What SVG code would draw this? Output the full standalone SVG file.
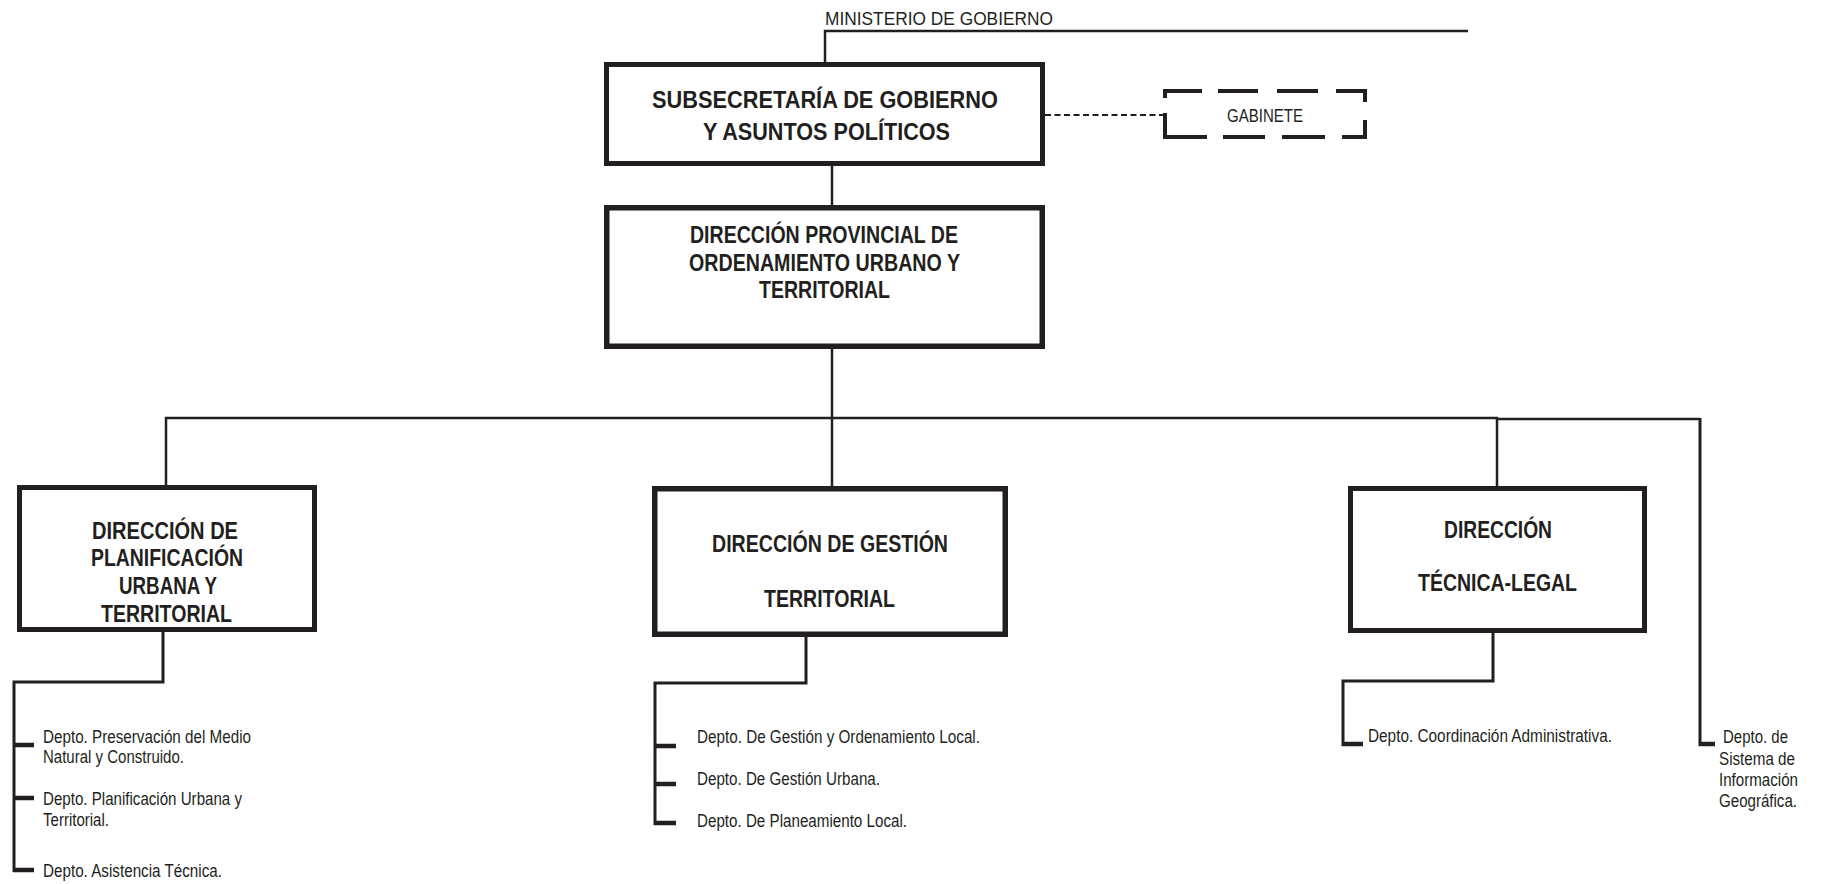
<svg xmlns="http://www.w3.org/2000/svg" width="1824" height="884" viewBox="0 0 1824 884">
  <style>
    .bg { fill: #ffffff; }
    .box { fill: #ffffff; stroke: #231f20; stroke-width: 5.5; }
    .ttl { font-family: "Liberation Sans", Arial, sans-serif; font-weight: bold; font-size: 24px; fill: #231f20; text-anchor: start; }
    .lbl { font-family: "Liberation Sans", Arial, sans-serif; font-size: 17.5px; fill: #231f20; }
    .top { font-family: "Liberation Sans", Arial, sans-serif; font-size: 19px; fill: #231f20; }
    .ln { fill: none; stroke: #231f20; stroke-width: 2.5; }
    .dl { fill: none; stroke: #231f20; stroke-width: 3; }
    .stub { fill: none; stroke: #231f20; stroke-width: 4.5; }
    .dash { fill: none; stroke: #231f20; stroke-width: 2; stroke-dasharray: 6 3.5; }
    .gab { fill: none; stroke: #231f20; stroke-width: 4; }
  </style>
  <rect class="bg" x="0" y="0" width="1824" height="884"/>

  <!-- connectors -->
  <g id="connectors">
    <path class="ln" d="M825,62 V31 H1468"/>
    <path class="ln" d="M832,166 V205"/>
    <path class="ln" d="M832,349 V486"/>
    <path class="ln" d="M166,486 V418 H1497 V486"/>
    <path class="ln" d="M1497,419 H1700"/>
    <path class="dash" d="M1045,115 H1163"/>
    <!-- department branches -->
    <path class="dl" d="M163,632 V682 H14 V872"/>
    <path class="stub" d="M13,745 H34 M13,798 H34 M13,870 H34"/>
    <path class="dl" d="M806,637 V683 H655 V825"/>
    <path class="stub" d="M654,746 H676 M654,784 H676 M654,823 H676"/>
    <path class="dl" d="M1493,633 V681 H1343 V746"/>
    <path class="stub" d="M1342,744 H1363"/>
    <path class="dl" d="M1700,418 V746"/>
    <path class="stub" d="M1699,744 H1715"/>
  </g>

  <text class="top" x="825" y="25" textLength="228" lengthAdjust="spacingAndGlyphs">MINISTERIO DE GOBIERNO</text>

  <g id="subsecretaria">
    <rect class="box" x="606.5" y="64.5" width="436" height="99" style="stroke-width:5"/>
    <text class="ttl" x="652" y="108" textLength="346" lengthAdjust="spacingAndGlyphs">SUBSECRETARÍA DE GOBIERNO</text>
    <text class="ttl" x="703" y="140" textLength="247" lengthAdjust="spacingAndGlyphs">Y ASUNTOS POLÍTICOS</text>
  </g>

  <g id="gabinete">
    <path class="gab" d="M1165,98 V91 H1202 M1218,91 H1258 M1277,91 H1318 M1336,91 H1365 V102 M1365,120 V137 H1342 M1325,137 H1282 M1265,137 H1223 M1207,137 H1165 V113"/>
    <text class="top" x="1227" y="122" textLength="76" lengthAdjust="spacingAndGlyphs" style="font-size:18px">GABINETE</text>
  </g>

  <g id="direccion-provincial">
    <rect class="box" x="606.75" y="207.75" width="435.5" height="138.5"/>
    <text class="ttl" x="690" y="243" textLength="268" lengthAdjust="spacingAndGlyphs">DIRECCIÓN PROVINCIAL DE</text>
    <text class="ttl" x="689" y="271" textLength="271" lengthAdjust="spacingAndGlyphs">ORDENAMIENTO URBANO Y</text>
    <text class="ttl" x="759" y="298" textLength="131" lengthAdjust="spacingAndGlyphs">TERRITORIAL</text>
  </g>

  <g id="direccion-planificacion">
    <rect class="box" x="19.5" y="487.5" width="295" height="142" style="stroke-width:5"/>
    <text class="ttl" x="92" y="539" textLength="146" lengthAdjust="spacingAndGlyphs">DIRECCIÓN DE</text>
    <text class="ttl" x="91" y="566" textLength="152" lengthAdjust="spacingAndGlyphs">PLANIFICACIÓN</text>
    <text class="ttl" x="119" y="594" textLength="98" lengthAdjust="spacingAndGlyphs">URBANA Y</text>
    <text class="ttl" x="101" y="622" textLength="131" lengthAdjust="spacingAndGlyphs">TERRITORIAL</text>
  </g>

  <g id="direccion-gestion">
    <rect class="box" x="654.75" y="488.75" width="350.5" height="145.5"/>
    <text class="ttl" x="712" y="552" textLength="236" lengthAdjust="spacingAndGlyphs">DIRECCIÓN DE GESTIÓN</text>
    <text class="ttl" x="764" y="607" textLength="131" lengthAdjust="spacingAndGlyphs">TERRITORIAL</text>
  </g>

  <g id="direccion-tecnica">
    <rect class="box" x="1350.5" y="488.5" width="294" height="142" style="stroke-width:5"/>
    <text class="ttl" x="1444" y="538" textLength="108" lengthAdjust="spacingAndGlyphs">DIRECCIÓN</text>
    <text class="ttl" x="1418" y="591" textLength="159" lengthAdjust="spacingAndGlyphs">TÉCNICA-LEGAL</text>
  </g>

  <g id="deptos-planificacion">
    <text class="lbl" x="43" y="743" textLength="208" lengthAdjust="spacingAndGlyphs">Depto. Preservación del Medio</text>
    <text class="lbl" x="43" y="763" textLength="141" lengthAdjust="spacingAndGlyphs">Natural y Construido.</text>
    <text class="lbl" x="43" y="805" textLength="199" lengthAdjust="spacingAndGlyphs">Depto. Planificación Urbana y</text>
    <text class="lbl" x="43" y="826" textLength="66" lengthAdjust="spacingAndGlyphs">Territorial.</text>
    <text class="lbl" x="43" y="877" textLength="179" lengthAdjust="spacingAndGlyphs">Depto. Asistencia Técnica.</text>
  </g>

  <g id="deptos-gestion">
    <text class="lbl" x="697" y="743" textLength="283" lengthAdjust="spacingAndGlyphs">Depto. De Gestión y Ordenamiento Local.</text>
    <text class="lbl" x="697" y="785" textLength="183" lengthAdjust="spacingAndGlyphs">Depto. De Gestión Urbana.</text>
    <text class="lbl" x="697" y="827" textLength="210" lengthAdjust="spacingAndGlyphs">Depto. De Planeamiento Local.</text>
  </g>

  <g id="depto-coordinacion">
    <text class="lbl" x="1368" y="742" textLength="244" lengthAdjust="spacingAndGlyphs">Depto. Coordinación Administrativa.</text>
  </g>

  <g id="depto-sig">
    <text class="lbl" x="1723" y="743" textLength="65" lengthAdjust="spacingAndGlyphs">Depto. de</text>
    <text class="lbl" x="1719" y="765" textLength="76" lengthAdjust="spacingAndGlyphs">Sistema de</text>
    <text class="lbl" x="1719" y="786" textLength="79" lengthAdjust="spacingAndGlyphs">Información</text>
    <text class="lbl" x="1719" y="807" textLength="78" lengthAdjust="spacingAndGlyphs">Geográfica.</text>
  </g>
</svg>
